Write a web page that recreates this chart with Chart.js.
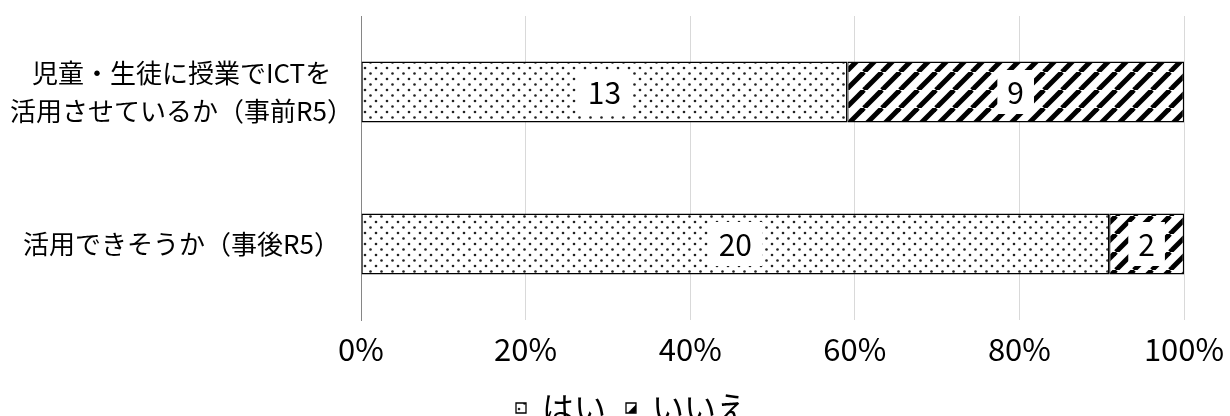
<!DOCTYPE html>
<html><head><meta charset="utf-8">
<style>html,body{margin:0;padding:0;background:#fff;overflow:hidden}#wrap{width:1230px;height:416px;overflow:hidden;position:relative}</style>
<script src="https://cdn.jsdelivr.net/npm/chart.js@4/dist/chart.umd.min.js"></script>
</head><body><div id="wrap"><canvas id="c" width="1230" height="434"></canvas></div>
<script>
const categories = [["児童・生徒に授業でICTを", "活用させているか（事前R5）"], "活用できそうか（事後R5）"];
const seriesNames = ["はい", "いいえ"];
const yesCounts = [13, 20];
const noCounts = [9, 2];
const tickLabels = ["0%", "20%", "40%", "60%", "80%", "100%"];

const FONT = '"Noto Sans CJK JP", "Noto Sans", sans-serif';

function dotPattern() {
  const c = document.createElement('canvas'); c.width = 11; c.height = 11;
  const x = c.getContext('2d');
  x.fillStyle = '#fff'; x.fillRect(0, 0, 11, 11);
  x.fillStyle = '#222';
  [[2, 2], [7.5, 7.5]].forEach(([a, b]) => { x.beginPath(); x.arc(a, b, 1.3, 0, Math.PI * 2); x.fill(); });
  return x.createPattern(c, 'repeat');
}
function stripePattern() {
  const s = 18;
  const c = document.createElement('canvas'); c.width = s; c.height = s;
  const x = c.getContext('2d');
  x.fillStyle = '#fff'; x.fillRect(0, 0, s, s);
  x.strokeStyle = '#000'; x.lineWidth = 5;
  for (const o of [-s, 0, s]) { x.beginPath(); x.moveTo(o, s); x.lineTo(o + s, 0); x.stroke(); }
  return x.createPattern(c, 'repeat');
}

const pct = (arr) => arr.map((v, i) => v / (yesCounts[i] + noCounts[i]) * 100);

const labelPlugin = {
  id: 'boxLabels',
  afterLayout(chart) {
    const lg = chart.legend;
    if (lg) { lg.left += 40; lg.right += 40; }
  },
  afterDatasetsDraw(chart) {
    const ctx = chart.ctx;
    ctx.save();
    ctx.font = '30px ' + FONT;
    ctx.textAlign = 'center';
    ctx.textBaseline = 'middle';
    chart.data.datasets.forEach((ds, di) => {
      const meta = chart.getDatasetMeta(di);
      meta.data.forEach((el, i) => {
        const txt = String(ds.counts[i]);
        const cx = (el.x + el.base) / 2, cy = el.y;
        const w = ctx.measureText(txt).width + 20, h = 44;
        ctx.fillStyle = '#fff';
        ctx.fillRect(cx - w / 2, cy - h / 2, w, h);
        ctx.fillStyle = '#000';
        ctx.fillText(txt, cx, cy + 1);
      });
    });
    ctx.restore();
  }
};

new Chart(document.getElementById('c'), {
  type: 'bar',
  data: {
    labels: categories,
    datasets: [
      { label: seriesNames[0], data: pct(yesCounts), counts: yesCounts, backgroundColor: dotPattern(), borderColor: '#000', borderWidth: 1.3, borderSkipped: false, barPercentage: 0.4, categoryPercentage: 1 },
      { label: seriesNames[1], data: pct(noCounts), counts: noCounts, backgroundColor: stripePattern(), borderColor: '#000', borderWidth: 1.3, borderSkipped: false, barPercentage: 0.4, categoryPercentage: 1 }
    ]
  },
  options: {
    indexAxis: 'y', responsive: false, animation: false,
    layout: { padding: { top: 16, right: 46, bottom: 0, left: 0 } },
    scales: {
      x: {
        stacked: true, min: 0, max: 100,
        ticks: { stepSize: 20, callback: (v, i) => tickLabels[i], font: { family: FONT, size: 31 }, color: '#000', padding: 11 },
        grid: { color: '#d9d9d9', drawTicks: false },
        border: { display: false },
        afterFit: s => { s.height = 52; s.paddingLeft = 0; s.paddingRight = 0; }
      },
      y: {
        stacked: true,
        ticks: { font: { family: FONT, size: 26, lineHeight: 1.45 }, color: '#000', padding: 8, crossAlign: 'center' },
        grid: { display: false, drawTicks: false },
        border: { display: true, color: '#868686', width: 1 },
        afterFit: s => { s.width = 361; s.paddingTop = 0; s.paddingBottom = 0; }
      }
    },
    plugins: {
      legend: { position: 'bottom', labels: { font: { family: FONT, size: 32 }, color: '#000', boxWidth: 10, boxHeight: 10, padding: 20 } },
      tooltip: { enabled: false }
    }
  },
  plugins: [labelPlugin]
});
</script></body></html>
